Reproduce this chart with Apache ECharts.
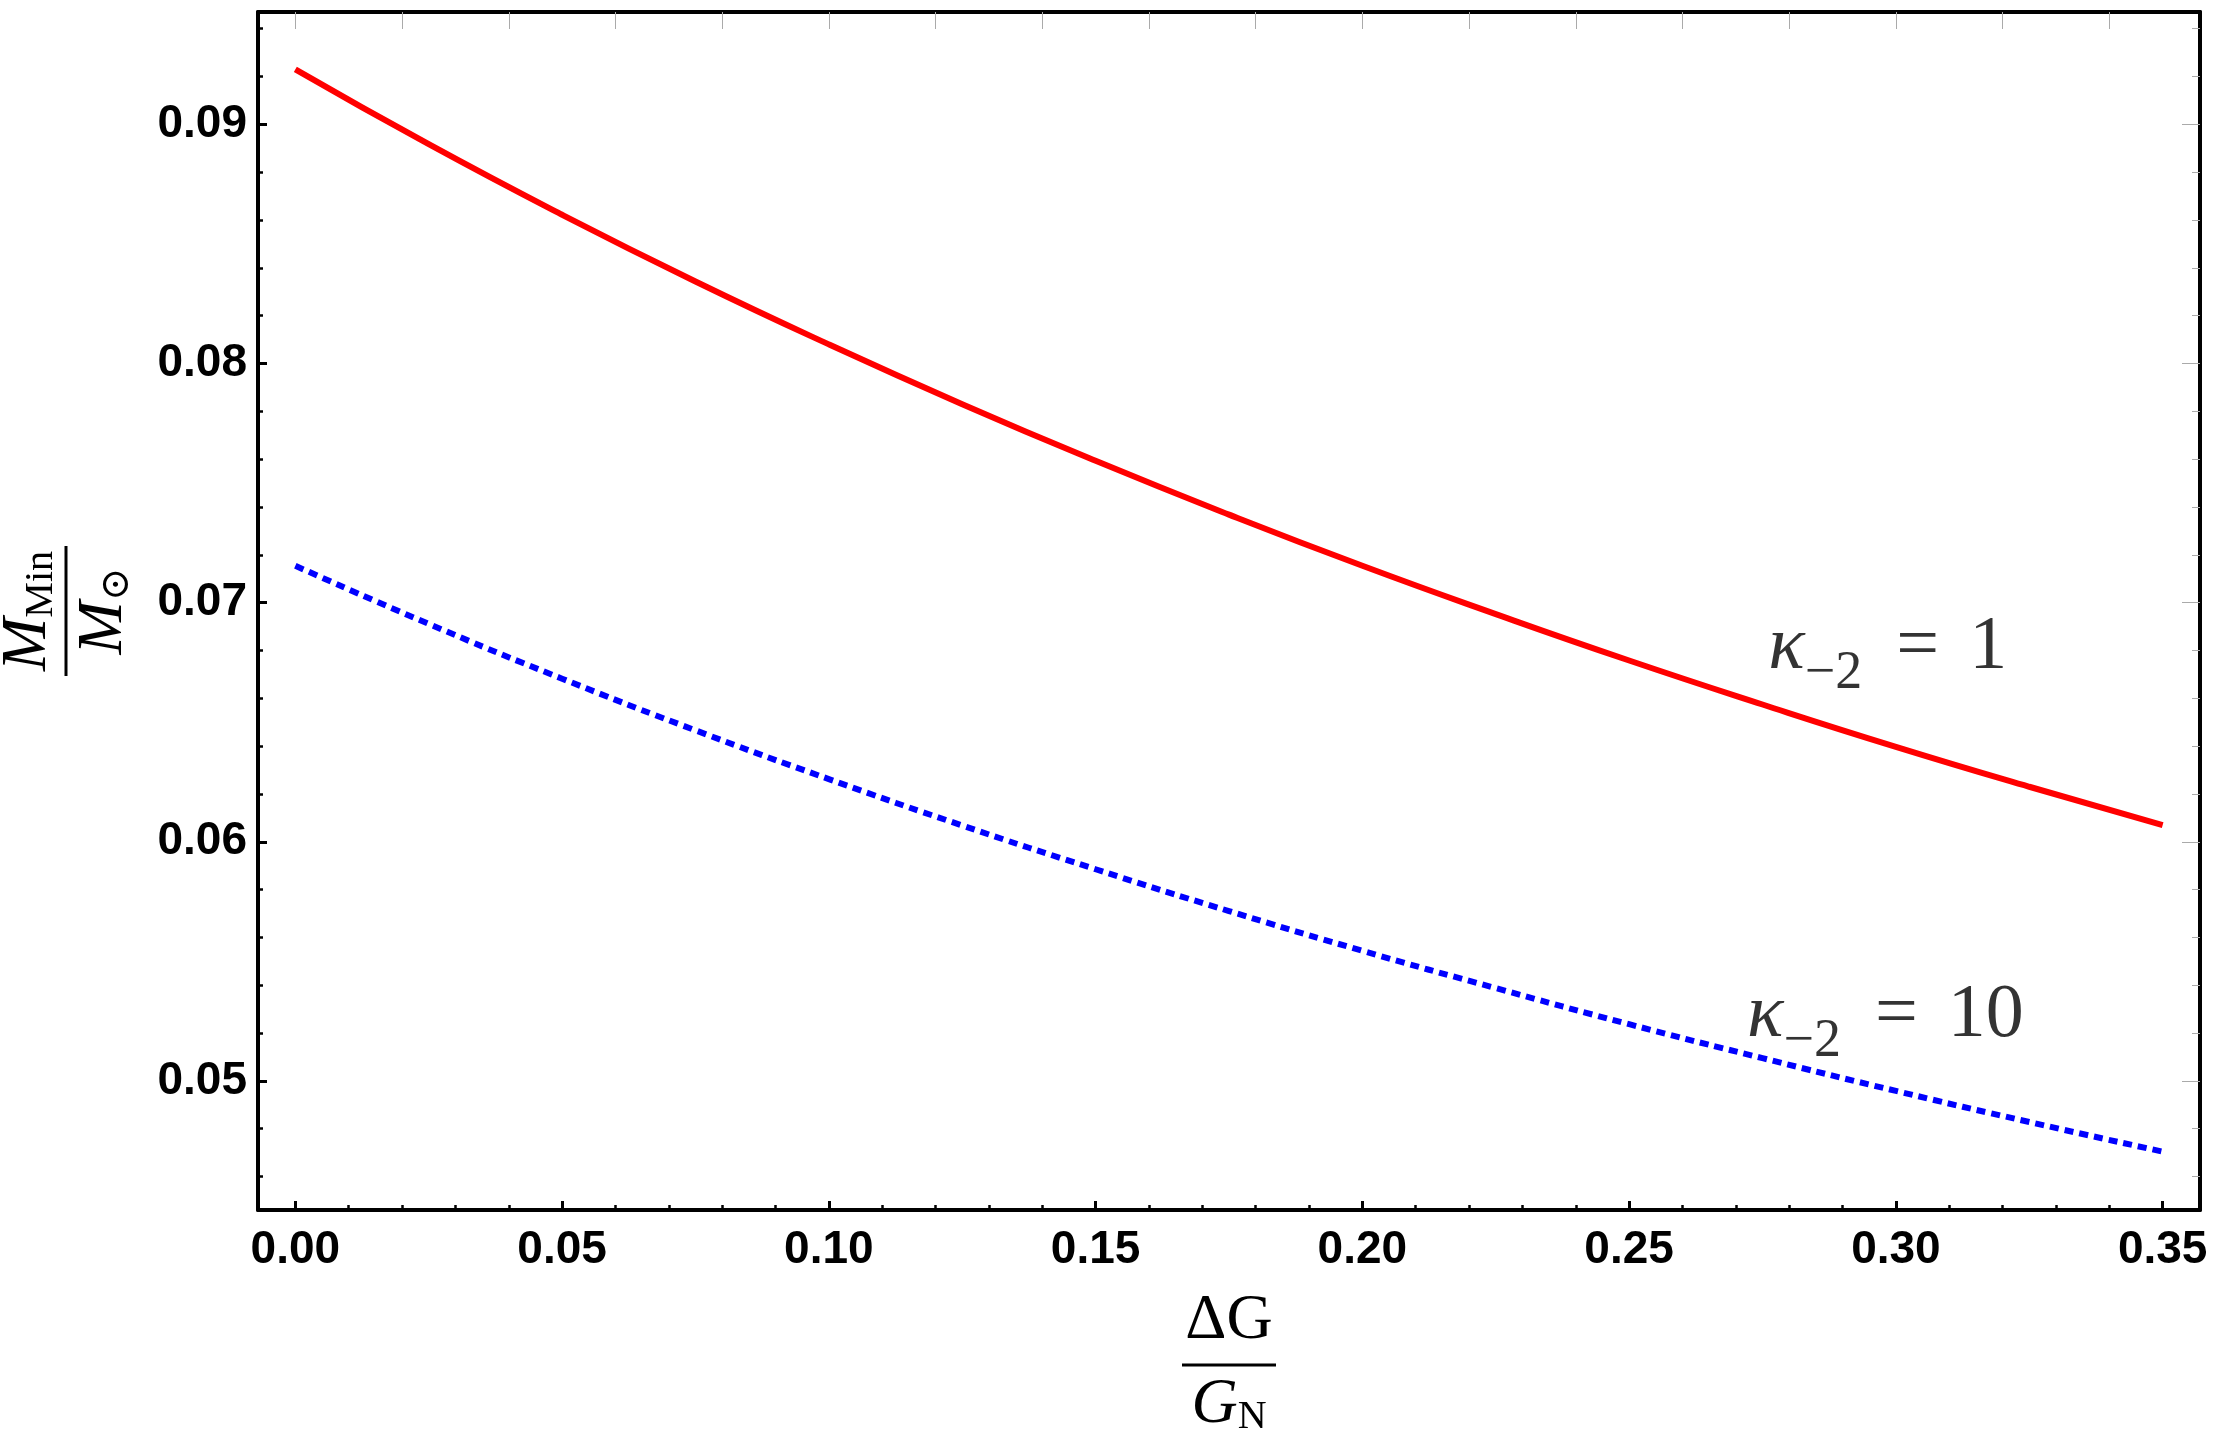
<!DOCTYPE html>
<html>
<head>
    <meta charset="utf-8">
    <title>M_Min vs ΔG/G_N</title>
    <script src="https://cdn.jsdelivr.net/npm/echarts@6.0.0/dist/echarts.min.js"></script>
    <style>
        html, body { margin: 0; padding: 0; background: #fff; }
    </style>
</head>
<body>
<div id="container" style="width: 2213px; height: 1432px;"></div>

<script type="text/javascript">

    // ΔG/G_N
    var deltaG = [0, 0.025, 0.05, 0.075, 0.1, 0.125, 0.15, 0.175, 0.2, 0.225, 0.25, 0.275, 0.3, 0.325, 0.35];
    // kappa_-2 = 1 (red, solid)
    var kappa1 = [0.09230, 0.08917, 0.08622, 0.08343, 0.08080, 0.07830, 0.07593, 0.07368, 0.07154, 0.06952, 0.06758, 0.06574, 0.06397, 0.06230, 0.06070];
    // kappa_-2 = 10 (blue, dotted)
    var kappa10 = [0.07154, 0.06911, 0.06682, 0.06466, 0.06262, 0.06068, 0.05885, 0.05710, 0.05544, 0.05388, 0.05237, 0.05095, 0.04958, 0.04828, 0.04704];

    // tick labels / tick positions
    var xTicks = [0, 0.05, 0.1, 0.15, 0.2, 0.25, 0.3, 0.35];
    var xMinor = [0.01, 0.02, 0.03, 0.04, 0.06, 0.07, 0.08, 0.09, 0.11, 0.12, 0.13, 0.14,
        0.16, 0.17, 0.18, 0.19, 0.21, 0.22, 0.23, 0.24, 0.26, 0.27, 0.28, 0.29, 0.31, 0.32, 0.33, 0.34];
    var xTop = [0, 0.02, 0.04, 0.06, 0.08, 0.1, 0.12, 0.14, 0.16, 0.18, 0.2, 0.22, 0.24, 0.26, 0.28, 0.3, 0.32, 0.34];
    var yTicks = [0.05, 0.06, 0.07, 0.08, 0.09];
    var yMinor = [0.046, 0.048, 0.052, 0.054, 0.056, 0.058, 0.062, 0.064, 0.066, 0.068,
        0.072, 0.074, 0.076, 0.078, 0.082, 0.084, 0.086, 0.088, 0.092, 0.094];

    var xMin = -0.007, xMax = 0.357;
    var yMin = 0.0446, yMax = 0.0947;

    function pairs(xs, ys) {
        var out = [];
        for (var i = 0; i < xs.length; i++) {
            out.push([xs[i], ys[i]]);
        }
        return out;
    }

    var serif = "'Liberation Serif', 'DejaVu Serif', serif";
    var sans = "'Liberation Sans', Arial, sans-serif";

    var dom = document.getElementById("container");
    var myChart = echarts.init(dom, null, {renderer: 'canvas'});

    // an axis that only draws ticks (no line, no labels)
    function tickAxis(pos, min, max, vals, len, width, color) {
        return {
            type: 'value',
            position: pos,
            min: min,
            max: max,
            axisLine: {show: false, onZero: false},
            axisTick: {
                show: true,
                inside: true,
                length: len,
                customValues: vals,
                lineStyle: {color: color, width: width}
            },
            axisLabel: {show: false},
            splitLine: {show: false}
        };
    }

    var kLabelRich = {
        k: {fontFamily: serif, fontStyle: 'italic', fontSize: 76, lineHeight: 106, color: '#000'},
        s: {fontFamily: serif, fontSize: 54, verticalAlign: 'bottom', color: '#000'},
        eq: {fontFamily: serif, fontSize: 76, lineHeight: 106, color: '#000', padding: [0, 30, 0, 34]},
        e: {fontFamily: serif, fontSize: 76, lineHeight: 106, color: '#000'}
    };

    var option = {
        backgroundColor: '#fff',
        animation: false,
        grid: {
            left: 258,
            right: 13,
            top: 12,
            bottom: 222,
            containLabel: false,
            outerBoundsMode: 'none'
        },
        xAxis: [
            {
                type: 'value',
                position: 'bottom',
                min: xMin,
                max: xMax,
                name: '{n|ΔG}\n{bar| }\n{d|G}{ds|N}',
                nameLocation: 'middle',
                nameGap: 75,
                nameTextStyle: {
                    rich: {
                        n: {fontFamily: serif, fontSize: 64, lineHeight: 72, color: '#000'},
                        bar: {width: 94, height: 3, lineHeight: 16, fontSize: 2, backgroundColor: '#000'},
                        d: {fontFamily: serif, fontStyle: 'italic', fontSize: 64, lineHeight: 64, color: '#000'},
                        ds: {fontFamily: serif, fontSize: 40, verticalAlign: 'bottom', color: '#000'}
                    }
                },
                axisLine: {show: true, onZero: false, lineStyle: {color: '#000', width: 4}},
                axisTick: {
                    show: true,
                    inside: true,
                    length: 9,
                    customValues: xTicks,
                    lineStyle: {color: '#000', width: 3}
                },
                axisLabel: {
                    customValues: xTicks,
                    margin: 17,
                    color: '#000',
                    fontFamily: sans,
                    fontWeight: 'bold',
                    fontSize: 46,
                    formatter: function (v) { return v.toFixed(2); }
                },
                splitLine: {show: false}
            },
            tickAxis('bottom', xMin, xMax, xMinor, 5, 2.5, '#000'),
            {
                type: 'value',
                position: 'top',
                min: xMin,
                max: xMax,
                axisLine: {show: true, onZero: false, lineStyle: {color: '#000', width: 4}},
                axisTick: {
                    show: true,
                    inside: true,
                    length: 17,
                    customValues: xTop,
                    lineStyle: {color: '#aaa', width: 1}
                },
                axisLabel: {show: false},
                splitLine: {show: false}
            }
        ],
        yAxis: [
            {
                type: 'value',
                position: 'left',
                min: yMin,
                max: yMax,
                name: '{m|M}{ms|Min}\n{bar| }\n{m|M}{ms|⊙}',
                nameLocation: 'middle',
                nameRotate: 90,
                nameGap: 121,
                nameTextStyle: {
                    rich: {
                        m: {fontFamily: serif, fontStyle: 'italic', fontSize: 64, lineHeight: 66, color: '#000'},
                        ms: {fontFamily: serif, fontSize: 40, verticalAlign: 'bottom', color: '#000'},
                        bar: {width: 130, height: 3, lineHeight: 10, fontSize: 2, backgroundColor: '#000'}
                    }
                },
                axisLine: {show: true, onZero: false, lineStyle: {color: '#000', width: 4}},
                axisTick: {
                    show: true,
                    inside: true,
                    length: 9,
                    customValues: yTicks,
                    lineStyle: {color: '#000', width: 3}
                },
                axisLabel: {
                    customValues: yTicks,
                    margin: 11,
                    color: '#000',
                    fontFamily: sans,
                    fontWeight: 'bold',
                    fontSize: 46,
                    formatter: function (v) { return v.toFixed(2); }
                },
                splitLine: {show: false}
            },
            tickAxis('left', yMin, yMax, yMinor, 5, 2.5, '#000'),
            {
                type: 'value',
                position: 'right',
                min: yMin,
                max: yMax,
                axisLine: {show: true, onZero: false, lineStyle: {color: '#000', width: 4}},
                axisTick: {
                    show: true,
                    inside: true,
                    length: 18,
                    customValues: yTicks,
                    lineStyle: {color: '#aaa', width: 1}
                },
                axisLabel: {show: false},
                splitLine: {show: false}
            },
            tickAxis('right', yMin, yMax, yMinor, 8, 1, '#aaa')
        ],
        series: [
            {
                name: 'kappa1',
                type: 'line',
                xAxisIndex: 0,
                yAxisIndex: 0,
                data: pairs(deltaG, kappa1),
                smooth: true,
                showSymbol: false,
                symbol: 'none',
                lineStyle: {color: '#ff0000', width: 6, cap: 'butt'}
            },
            {
                name: 'kappa10',
                type: 'line',
                xAxisIndex: 0,
                yAxisIndex: 0,
                data: pairs(deltaG, kappa10),
                smooth: true,
                showSymbol: false,
                symbol: 'none',
                lineStyle: {color: '#0000ff', width: 6, type: [9, 6], cap: 'butt'}
            },
            { // curve labels
                type: 'scatter',
                xAxisIndex: 0,
                yAxisIndex: 0,
                silent: true,
                symbolSize: 1,
                itemStyle: {color: 'rgba(0,0,0,0)'},
                label: {
                    show: true,
                    position: 'right',
                    distance: 0,
                    verticalAlign: 'middle',
                    color: '#000',
                    textBorderWidth: 0,
                    rich: kLabelRich,
                    formatter: function (p) { return p.data.text; }
                },
                data: [
                    {value: [0.276, 0.0681], text: '{k|κ}{s|−2}{eq|=}{e|1}'},
                    {value: [0.272, 0.0527], text: '{k|κ}{s|−2}{eq|=}{e|10}'}
                ]
            }
        ]
    };

    myChart.setOption(option, true);

</script>
</body>
</html>
